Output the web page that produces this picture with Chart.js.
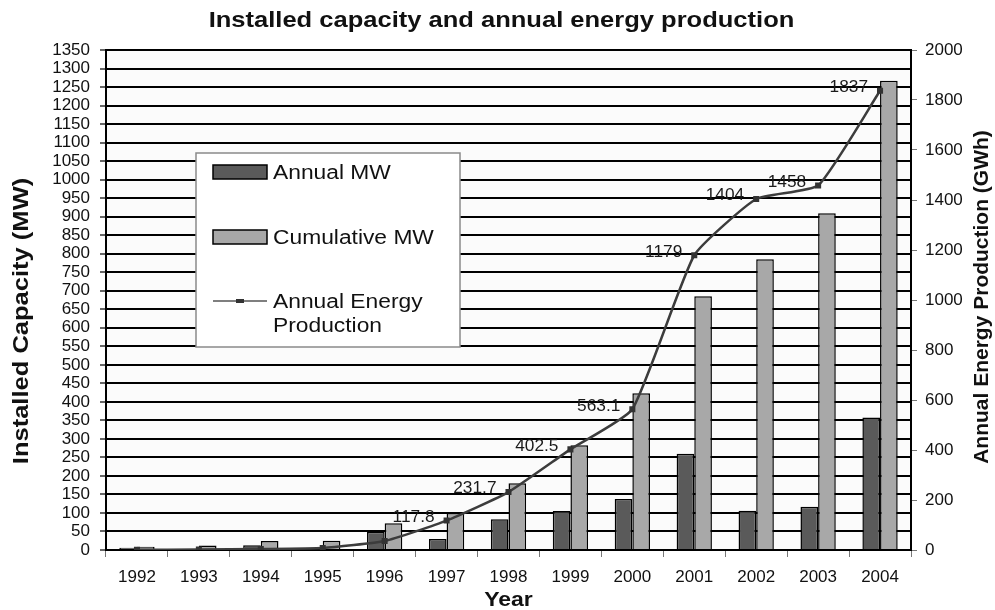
<!DOCTYPE html>
<html>
<head>
<meta charset="utf-8">
<title>Installed capacity and annual energy production</title>
<script src="https://cdn.jsdelivr.net/npm/chart.js@4.4.1/dist/chart.umd.min.js"></script>
<style>
    body { margin: 0; background: #fff; }
    #chart { display: block; }
</style>
</head>
<body>
<canvas id="chart" width="995" height="610"></canvas>
<script>
const years = ['1992', '1993', '1994', '1995', '1996', '1997', '1998', '1999', '2000', '2001', '2002', '2003', '2004'];
const annualMW = [6, 0, 13, 0, 49, 30, 83, 105, 138, 260, 106, 117, 358];
const cumulativeMW = [9, 12, 24, 25, 72, 100, 180, 283, 423, 685, 785, 909, 1267];
const energyGWh = [1, 2, 4, 8, 36, 117.8, 231.7, 402.5, 563.1, 1179, 1404, 1458, 1837];
const energyLabels = ['', '', '', '', '', '117.8', '231.7', '402.5', '563.1', '1179', '1404', '1458', '1837'];
const seriesNames = ['Annual MW', 'Cumulative MW', 'Annual Energy Production'];

const mwMax = 1350, mwStep = 50;
const gwhMax = 2000, gwhStep = 200;

const FONT = '"Liberation Sans", Arial, sans-serif';

// draws text with a horizontal stretch (the original export is a bit wide)
function drawText(ctx, text, x, y, o) {
    ctx.save();
    ctx.translate(x, y);
    if (o.rotate) ctx.rotate(o.rotate);
    ctx.scale(o.sx || 1, 1);
    ctx.font = o.font;
    ctx.fillStyle = o.color || '#111';
    ctx.textAlign = o.align || 'center';
    ctx.textBaseline = 'middle';
    ctx.fillText(text, 0, 0);
    ctx.restore();
}

function wrapWords(ctx, text, maxWidth, sx) {
    const words = text.split(' ');
    const lines = [];
    let line = '';
    words.forEach(w => {
        const test = line ? line + ' ' + w : w;
        if (line && ctx.measureText(test).width * sx > maxWidth) {
            lines.push(line);
            line = w;
        } else {
            line = test;
        }
    });
    lines.push(line);
    return lines;
}

const plotBackground = {
    id: 'plotBackground',
    beforeDraw(chart) {
        const { ctx, chartArea: a } = chart;
        ctx.save();
        ctx.fillStyle = '#fbfbfb';
        ctx.fillRect(a.left, a.top, a.right - a.left, a.bottom - a.top);
        ctx.restore();
    }
};

const textLayer = {
    id: 'textLayer',
    afterDatasetsDraw(chart) {
        const { ctx, chartArea: a } = chart;

        // point labels on the energy line
        const meta = chart.getDatasetMeta(2);
        meta.data.forEach((pt, i) => {
            if (!energyLabels[i]) return;
            drawText(ctx, energyLabels[i], pt.x - 12, pt.y - 3, {
                font: '16px ' + FONT, align: 'right', sx: 1.08, color: '#1a1a1a'
            });
        });

        // legend box
        const bx = a.left + 90, by = a.top + 103, bw = 264, bh = 194;
        ctx.save();
        ctx.fillStyle = '#fff';
        ctx.fillRect(bx, by, bw, bh);
        ctx.strokeStyle = '#8a8a8a';
        ctx.lineWidth = 1.5;
        ctx.strokeRect(bx, by, bw, bh);
        ctx.restore();

        const ds = chart.data.datasets;
        const swX = bx + 17, swW = 54, txtX = bx + 77;
        const legendFont = '20px ' + FONT;
        const rows = [by + 19, by + 84, by + 148];
        ds.forEach((d, i) => {
            const cy = rows[i];
            ctx.save();
            if (d.type === 'line') {
                ctx.strokeStyle = '#555';
                ctx.lineWidth = 1.5;
                ctx.beginPath();
                ctx.moveTo(swX, cy);
                ctx.lineTo(swX + swW, cy);
                ctx.stroke();
                ctx.fillStyle = '#333';
                ctx.fillRect(swX + swW / 2 - 4, cy - 2, 8, 4);
            } else {
                ctx.fillStyle = d.backgroundColor;
                ctx.strokeStyle = '#000';
                ctx.lineWidth = 1.5;
                ctx.fillRect(swX, cy - 7, swW, 14);
                ctx.strokeRect(swX, cy - 7, swW, 14);
            }
            ctx.font = legendFont;
            const lines = wrapWords(ctx, d.label, bw - 90, 1.14);
            ctx.restore();
            lines.forEach((ln, k) => {
                drawText(ctx, ln, txtX, cy + 1 + k * 24, { font: legendFont, align: 'left', sx: 1.14 });
            });
        });
    },
    afterDraw(chart) {
        const { ctx, chartArea: a } = chart;
        const midX = (a.left + a.right) / 2;
        const midY = (a.top + a.bottom) / 2;
        drawText(ctx, 'Installed capacity and annual energy production', chart.width / 2 + 4, 21,
            { font: 'bold 22px ' + FONT, sx: 1.16 });
        drawText(ctx, 'Year', midX, 600, { font: 'bold 20px ' + FONT, sx: 1.15 });
        drawText(ctx, 'Installed Capacity (MW)', 22, midY + 21,
            { font: 'bold 22px ' + FONT, sx: 1.16, rotate: -Math.PI / 2 });
        drawText(ctx, 'Annual Energy Production (GWh)', 982, midY - 3,
            { font: 'bold 21px ' + FONT, sx: 1.0, rotate: -Math.PI / 2 });
    }
};

const tickFont = { family: FONT, size: 17, lineHeight: 1 };
const plainNumber = v => String(v);

new Chart(document.getElementById('chart'), {
    data: {
        labels: years,
        datasets: [
            {
                type: 'bar',
                label: seriesNames[0],
                data: annualMW,
                backgroundColor: '#5a5a5a',
                borderColor: '#000',
                borderWidth: 1.5,
                yAxisID: 'y',
                order: 2
            },
            {
                type: 'bar',
                label: seriesNames[1],
                data: cumulativeMW,
                backgroundColor: '#a8a8a8',
                borderColor: '#000',
                borderWidth: 1.5,
                yAxisID: 'y',
                order: 2
            },
            {
                type: 'line',
                label: seriesNames[2],
                data: energyGWh,
                borderColor: '#3c3c3c',
                borderWidth: 2.5,
                tension: 0.15,
                pointStyle: 'rect',
                pointRadius: 2.5,
                pointBackgroundColor: '#333',
                pointBorderColor: '#333',
                yAxisID: 'y2',
                order: 1
            }
        ]
    },
    options: {
        responsive: false,
        animation: false,
        layout: { padding: { top: 50, left: 0, right: 0, bottom: 0 } },
        datasets: {
            bar: { categoryPercentage: 0.57, barPercentage: 1.0 }
        },
        plugins: {
            legend: { display: false },
            title: { display: false },
            tooltip: { enabled: false }
        },
        scales: {
            x: {
                offset: true,
                grid: { display: true, drawOnChartArea: false, offset: true, tickLength: 7, color: '#777', lineWidth: 1 },
                border: { color: '#000', width: 2 },
                ticks: { color: '#111', font: tickFont, padding: 12, maxRotation: 0, autoSkip: false },
                afterFit(s) { s.height = 60; }
            },
            y: {
                position: 'left',
                min: 0,
                max: mwMax,
                ticks: { stepSize: mwStep, autoSkip: false, padding: 10, color: '#111', font: tickFont, callback: plainNumber },
                grid: { color: '#000', lineWidth: 2, tickLength: 6, tickColor: '#666' },
                border: { color: '#000', width: 2 },
                afterFit(s) { s.width = 106; }
            },
            y2: {
                position: 'right',
                min: 0,
                max: gwhMax,
                ticks: { stepSize: gwhStep, autoSkip: false, padding: 8, color: '#111', font: tickFont, callback: plainNumber },
                grid: { drawOnChartArea: false, tickLength: 6, color: '#777' },
                border: { color: '#000', width: 2 },
                afterFit(s) { s.width = 84; }
            }
        }
    },
    plugins: [plotBackground, textLayer]
});
</script>
</body>
</html>
